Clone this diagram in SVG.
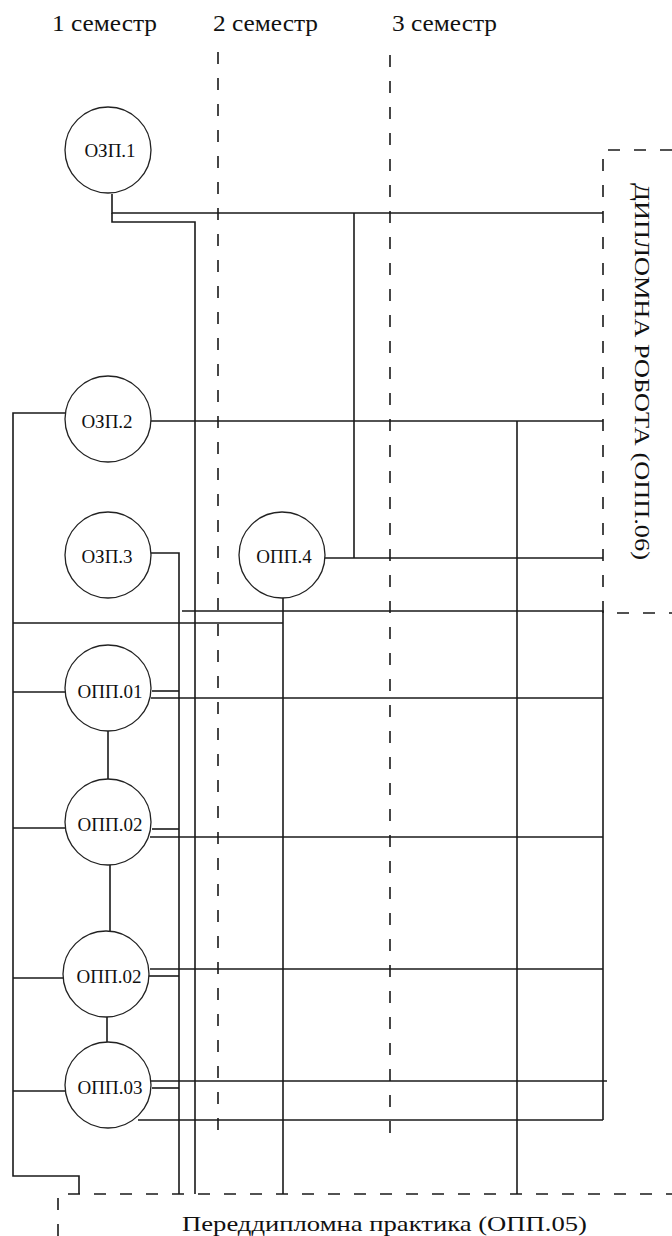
<svg xmlns="http://www.w3.org/2000/svg" width="672" height="1236" viewBox="0 0 672 1236">
<style>
.bg{fill:#fff}
.ln{fill:none;stroke:#1a1a1a;stroke-width:1.6}
.ds{fill:none;stroke:#1a1a1a;stroke-width:1.6;stroke-dasharray:12 14}
.nd circle{fill:#fff;stroke:#222;stroke-width:1.3}
.lb{font-family:"Liberation Serif","Times New Roman",serif;font-size:19px;fill:#111;text-anchor:middle}
.hd{font-family:"Liberation Serif","Times New Roman",serif;font-size:23px;fill:#111}
.bx{font-family:"Liberation Serif","Times New Roman",serif;font-size:21px;fill:#111}
</style>
<rect class="bg" x="0" y="0" width="672" height="1236"/>
<g id="semesters">
<text class="hd" x="52" y="31" textLength="105" lengthAdjust="spacingAndGlyphs">1 семестр</text>
<text class="hd" x="213" y="31" textLength="105" lengthAdjust="spacingAndGlyphs">2 семестр</text>
<text class="hd" x="392" y="31" textLength="105" lengthAdjust="spacingAndGlyphs">3 семестр</text>
<path class="ds" d="M218,52 V1140"/>
<path class="ds" d="M390,55 V1147"/>
</g>
<g id="connectors">
<path class="ln" d="M112,194 V213 H603"/>
<path class="ln" d="M112,213 V222 H195 V1194"/>
<path class="ln" d="M354,213 V558"/>
<path class="ln" d="M325,558 H603"/>
<path class="ln" d="M151,421 H603"/>
<path class="ln" d="M517,421 V1194"/>
<path class="ln" d="M65,413 H13 V1176 H79 V1194"/>
<path class="ln" d="M151,553 H179 V1194"/>
<path class="ln" d="M182,611 H603 V1120"/>
<path class="ln" d="M283,598 V1194"/>
<path class="ln" d="M13,623 H283"/>
<path class="ln" d="M13,692 H65"/>
<path class="ln" d="M152,691 H179"/>
<path class="ln" d="M151,698 H603"/>
<path class="ln" d="M108,731 V779"/>
<path class="ln" d="M13,828 H65"/>
<path class="ln" d="M152,829 H179"/>
<path class="ln" d="M150,837 H603"/>
<path class="ln" d="M110,865 V932"/>
<path class="ln" d="M13,978 H63"/>
<path class="ln" d="M150,969 H603"/>
<path class="ln" d="M149,976 H179"/>
<path class="ln" d="M107,1017 V1042"/>
<path class="ln" d="M13,1091 H65"/>
<path class="ln" d="M151,1081 H607"/>
<path class="ln" d="M152,1088 H179"/>
<path class="ln" d="M138,1120 H603"/>
</g>
<g id="diploma">
<path class="ds" d="M672,150 H603 V613 H672"/>
<text class="bx" transform="translate(635,183) rotate(90)" font-size="26" textLength="377" lengthAdjust="spacingAndGlyphs">ДИПЛОМНА РОБОТА (ОПП.06)</text>
</g>
<g id="practice">
<path class="ds" d="M58,1236 V1194 H672"/>
<text class="bx" x="182" y="1231" textLength="405" lengthAdjust="spacingAndGlyphs">Переддипломна практика (ОПП.05)</text>
</g>
<g id="ozp1" class="nd"><circle cx="108" cy="150" r="43"/><text class="lb" x="110" y="157">ОЗП.1</text></g>
<g id="ozp2" class="nd"><circle cx="108" cy="419" r="43"/><text class="lb" x="107" y="428">ОЗП.2</text></g>
<g id="ozp3" class="nd"><circle cx="108" cy="555" r="43"/><text class="lb" x="107" y="563">ОЗП.3</text></g>
<g id="opp4" class="nd"><circle cx="282" cy="555" r="43"/><text class="lb" x="284" y="563">ОПП.4</text></g>
<g id="opp01" class="nd"><circle cx="108" cy="688" r="43"/><text class="lb" x="110" y="698">ОПП.01</text></g>
<g id="opp02a" class="nd"><circle cx="108" cy="822" r="43"/><text class="lb" x="110" y="831">ОПП.02</text></g>
<g id="opp02b" class="nd"><circle cx="106" cy="974" r="43"/><text class="lb" x="109" y="983">ОПП.02</text></g>
<g id="opp03" class="nd"><circle cx="108" cy="1085" r="43"/><text class="lb" x="110" y="1094">ОПП.03</text></g>
</svg>
